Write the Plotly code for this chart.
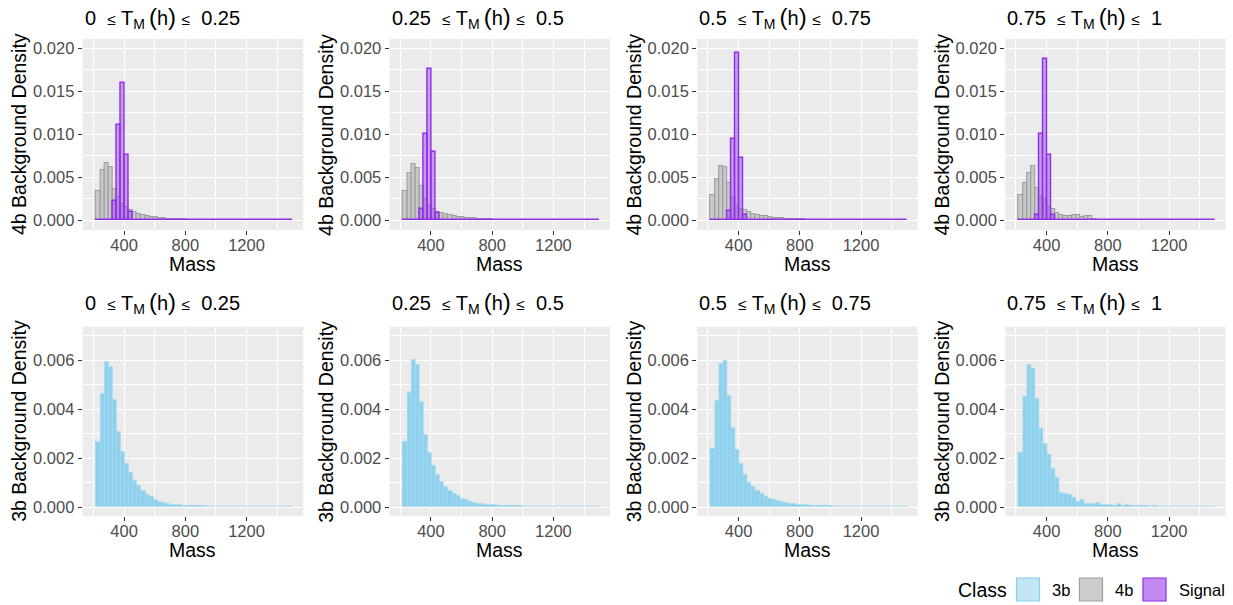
import plotly.graph_objects as go
from plotly.subplots import make_subplots

# histogram bins (mass), shared by every panel
bin_start = 218.0
bin_width = 26.7
n_bins = 48

tm_low = ["0", "0.25", "0.5", "0.75"]
tm_high = ["0.25", "0.5", "0.75", "1"]

# 4b background density, one list per T_M(h) slice
fourb_q1 = [0.00345, 0.0059, 0.00668, 0.0062, 0.0037, 0.0027, 0.0019, 0.0015, 0.0012, 0.00095,
            0.00078, 0.00064, 0.00052, 0.00043, 0.00036, 0.0003, 0.00025, 0.00021, 0.00018, 0.00015,
            0.00013, 0.00011, 0.0001, 0.00009, 0.00008, 0.00007, 0.00006, 0.00005, 0.00005, 0.00004,
            0.00004, 0.00003, 0.00003, 0.00003, 0.00002, 0.00002, 0.00002, 0.00002, 0.00002, 0.00001,
            0.00001, 0.00001, 0.00001, 0.00001, 0.00001, 0.00001, 0.00001, 0.00001]
fourb_q2 = [0.00342, 0.00555, 0.0066, 0.00613, 0.00404, 0.0025, 0.0017, 0.0013, 0.001, 0.0008,
            0.0007, 0.0006, 0.0005, 0.00042, 0.00035, 0.0003, 0.00026, 0.00022, 0.00018, 0.00016,
            0.00014, 0.00012, 0.0001, 0.00009, 0.00008, 0.00007, 0.00006, 0.00005, 0.00005, 0.00004,
            0.00004, 0.00003, 0.00003, 0.00003, 0.00002, 0.00002, 0.00002, 0.00002, 0.00002, 0.00002,
            0.00001, 0.00001, 0.00001, 0.00001, 0.00001, 0.00001, 0.00001, 0.00001]
fourb_q3 = [0.0029, 0.00478, 0.00633, 0.0062, 0.00435, 0.0027, 0.0017, 0.0013, 0.00124, 0.00097,
            0.0007, 0.0006, 0.0005, 0.00045, 0.00038, 0.00032, 0.00028, 0.00024, 0.0002, 0.00017,
            0.00015, 0.00013, 0.00011, 0.0001, 0.00009, 0.00008, 0.00007, 0.00006, 0.00005, 0.00005,
            0.00004, 0.00004, 0.00003, 0.00003, 0.00003, 0.00002, 0.00002, 0.00002, 0.00002, 0.00002,
            0.00001, 0.00001, 0.00001, 0.00001, 0.00001, 0.00001, 0.00001, 0.00001]
fourb_q4 = [0.0029, 0.00434, 0.00547, 0.00632, 0.0038, 0.0027, 0.0025, 0.0015, 0.0013, 0.0009,
            0.0006, 0.0005, 0.0005, 0.0006, 0.0006, 0.0004, 0.0005, 0.0005, 0.0002, 0.0001,
            0.0001, 0.00005, 0.00005, 0.0001, 0.0001, 0.00005, 0.00005, 0.0001, 0.0001, 0.00002,
            0.00005, 0.0001, 0.00002, 0.00002, 0.00002, 0.00002, 0.00002, 0.00002, 0.00002, 0.00002,
            0.00008, 0.00002, 0.00002, 0.00002, 0.00002, 0.00002, 0.00002, 0.00002]

# signal density
signal_q1 = [0.00002, 0.00002, 0.00002, 0.00008, 0.0022, 0.01107, 0.01595, 0.00765, 0.00093, 0.00005,
             0.00002, 0.00002, 0.00002, 0.00002, 0.00002, 0.00002, 0.00002, 0.00002, 0.00002, 0.00002,
             0.00002, 0.00002, 0.00002, 0.00002, 0.00002, 0.00002, 0.00002, 0.00002, 0.00002, 0.00002,
             0.00002, 0.00002, 0.00002, 0.00002, 0.00002, 0.00002, 0.00002, 0.00002, 0.00002, 0.00002,
             0.00002, 0.00002, 0.00002, 0.00002, 0.00002, 0.00002, 0.00002, 0.00002]
signal_q2 = [0.00002, 0.00002, 0.00002, 0.00006, 0.00136, 0.0100, 0.0176, 0.0080, 0.0009, 0.00005,
             0.00002, 0.00002, 0.00002, 0.00002, 0.00002, 0.00002, 0.00002, 0.00002, 0.00002, 0.00002,
             0.00002, 0.00002, 0.00002, 0.00002, 0.00002, 0.00002, 0.00002, 0.00002, 0.00002, 0.00002,
             0.00002, 0.00002, 0.00002, 0.00002, 0.00002, 0.00002, 0.00002, 0.00002, 0.00002, 0.00002,
             0.00002, 0.00002, 0.00002, 0.00002, 0.00002, 0.00002, 0.00002, 0.00002]
signal_q3 = [0.00002, 0.00002, 0.00002, 0.00005, 0.0011, 0.0094, 0.01945, 0.0072, 0.00066, 0.00004,
             0.00002, 0.00002, 0.00002, 0.00002, 0.00002, 0.00002, 0.00002, 0.00002, 0.00002, 0.00002,
             0.00002, 0.00002, 0.00002, 0.00002, 0.00002, 0.00002, 0.00002, 0.00002, 0.00002, 0.00002,
             0.00002, 0.00002, 0.00002, 0.00002, 0.00002, 0.00002, 0.00002, 0.00002, 0.00002, 0.00002,
             0.00002, 0.00002, 0.00002, 0.00002, 0.00002, 0.00002, 0.00002, 0.00002]
signal_q4 = [0.00002, 0.00002, 0.00002, 0.00004, 0.0006, 0.0100, 0.0187, 0.0076, 0.0006, 0.00004,
             0.00002, 0.00002, 0.00002, 0.00002, 0.00002, 0.00002, 0.00002, 0.00002, 0.00002, 0.00002,
             0.00002, 0.00002, 0.00002, 0.00002, 0.00002, 0.00002, 0.00002, 0.00002, 0.00002, 0.00002,
             0.00002, 0.00002, 0.00002, 0.00002, 0.00002, 0.00002, 0.00002, 0.00002, 0.00002, 0.00002,
             0.00002, 0.00002, 0.00002, 0.00002, 0.00002, 0.00002, 0.00002, 0.00002]

# 3b background density
threeb_q1 = [0.00267, 0.00463, 0.00595, 0.00574, 0.00438, 0.00309, 0.00227, 0.00177, 0.00139, 0.0011,
             0.00087, 0.00069, 0.00052, 0.00041, 0.0003, 0.00023, 0.00018, 0.00015, 0.00012, 0.0001,
             0.00009, 0.00008, 0.00007, 0.00006, 0.00006, 0.00005, 0.00005, 0.00004, 0.00004, 0.00004,
             0.00003, 0.00003, 0.00003, 0.00003, 0.00003, 0.00002, 0.00002, 0.00002, 0.00002, 0.00002,
             0.00002, 0.00002, 0.00002, 0.00002, 0.00002, 0.00002, 0.00002, 0.00002]
threeb_q2 = [0.00268, 0.00468, 0.00604, 0.00581, 0.0043, 0.00294, 0.00223, 0.0017, 0.00131, 0.00106,
             0.00084, 0.00068, 0.00056, 0.00045, 0.00035, 0.0003, 0.00024, 0.0002, 0.00016, 0.00014,
             0.00011, 0.0001, 0.00009, 0.00008, 0.00007, 0.00006, 0.00006, 0.00005, 0.00005, 0.00004,
             0.00004, 0.00004, 0.00003, 0.00003, 0.00003, 0.00003, 0.00002, 0.00002, 0.00002, 0.00002,
             0.00002, 0.00002, 0.00002, 0.00002, 0.00002, 0.00002, 0.00002, 0.00002]
threeb_q3 = [0.0024, 0.00433, 0.00584, 0.006, 0.00456, 0.00325, 0.00233, 0.00177, 0.00132, 0.00102,
             0.00083, 0.00067, 0.00057, 0.00042, 0.00035, 0.00029, 0.00027, 0.00022, 0.00019, 0.00016,
             0.00014, 0.00012, 0.0001, 0.00009, 0.00008, 0.00007, 0.00006, 0.00006, 0.00005, 0.00005,
             0.00004, 0.00004, 0.00004, 0.00003, 0.00003, 0.00003, 0.00002, 0.00002, 0.00002, 0.00002,
             0.00002, 0.00002, 0.00002, 0.00002, 0.00002, 0.00002, 0.00002, 0.00002]
threeb_q4 = [0.00222, 0.0045, 0.0058, 0.00565, 0.00445, 0.00322, 0.00261, 0.00214, 0.00156, 0.00121,
             0.00061, 0.00057, 0.0005, 0.0004, 0.00023, 0.0003, 0.00016, 0.00016, 0.00014, 0.00018,
             0.0001, 0.0001, 0.00012, 0.00008, 0.00014, 0.00008, 0.0001, 0.00007, 0.00006, 0.00005,
             0.00006, 0.00005, 0.00004, 0.00005, 0.00004, 0.00004, 0.00003, 0.00004, 0.00003, 0.00003,
             0.00003, 0.00002, 0.00003, 0.00002, 0.00002, 0.00002, 0.00002, 0.00002]

fourb = [fourb_q1, fourb_q2, fourb_q3, fourb_q4]
signal = [signal_q1, signal_q2, signal_q3, signal_q4]
threeb = [threeb_q1, threeb_q2, threeb_q3, threeb_q4]

mass = [bin_start + bin_width * (i + 0.5) for i in range(n_bins)]

W, H = 1233, 605
FONT = "Liberation Sans, Arial, Helvetica, sans-serif"

col3b = "rgba(135,206,235,0.92)"
col3b_line = "rgba(165,218,240,1)"
col4b = "rgba(188,188,188,0.75)"
col4b_line = "rgb(158,158,158)"
colsig = "rgba(155,70,232,0.48)"
colsig_line = "rgb(145,45,232)"

fig = make_subplots(rows=2, cols=4)

for c in range(4):
    fig.add_trace(go.Bar(x=mass, y=fourb[c], width=bin_width, marker_color=col4b,
                         marker_line=dict(color=col4b_line, width=1.1), showlegend=False),
                  row=1, col=c + 1)
    fig.add_trace(go.Bar(x=mass, y=signal[c], width=bin_width, marker_color=colsig,
                         marker_line=dict(color=colsig_line, width=1.4), showlegend=False),
                  row=1, col=c + 1)
    fig.add_trace(go.Bar(x=mass, y=threeb[c], width=bin_width, marker_color=col3b,
                         marker_line=dict(color=col3b_line, width=0.6), showlegend=False),
                  row=2, col=c + 1)

# panel placement (pixels)
col_left = [82.7, 389.6, 697.2, 1005.2]
panel_w = 220.5
rows_px = [(39, 230), (326.7, 516)]
ranges_y = [[-0.00112, 0.02108], [-0.00036, 0.00737]]
ylabels = ["4b Background Density", "3b Background Density"]
title_y = [17, 302]
mass_y = [264, 550]

sm = "<span style='font-size:15.5px'>≤</span>"


def par(s):
    return "<span style='font-size:24px'>" + s + "</span>"


annotations = []
for r in range(2):
    top, bot = rows_px[r]
    for c in range(4):
        x0, x1 = col_left[c], col_left[c] + panel_w
        fig.update_xaxes(domain=[x0 / W, x1 / W], range=[130, 1570],
                         tickvals=[400, 800, 1200], row=r + 1, col=c + 1)
        fig.update_yaxes(domain=[1 - bot / H, 1 - top / H], range=ranges_y[r],
                         row=r + 1, col=c + 1)
        if r == 0:
            fig.update_yaxes(tickvals=[0, 0.005, 0.01, 0.015, 0.02],
                             minor=dict(tick0=0.0025, dtick=0.005, showgrid=True,
                                        gridcolor="white", gridwidth=0.55),
                             row=1, col=c + 1)
        else:
            fig.update_yaxes(tickvals=[0, 0.002, 0.004, 0.006],
                             minor=dict(tick0=0.001, dtick=0.002, showgrid=True,
                                        gridcolor="white", gridwidth=0.55),
                             row=2, col=c + 1)
        annotations.append(dict(
            text=tm_low[c] + "\u00a0\u00a0" + sm + " T<sub>M</sub>\u2009" + par("(") + "h" + par(")") + " " + sm + "\u00a0\u00a0" + tm_high[c],
            x=x0 / W, y=1 - title_y[r] / H, xref="paper", yref="paper",
            xanchor="left", yanchor="middle", showarrow=False,
            font=dict(size=20, color="black", family=FONT)))
        annotations.append(dict(
            text=ylabels[r], textangle=-90,
            x=(19.5 + col_left[c] - col_left[0]) / W, y=1 - (top + bot) / 2 / H,
            xref="paper", yref="paper", xanchor="center", yanchor="middle",
            showarrow=False, font=dict(size=19.5, color="black", family=FONT)))
        annotations.append(dict(
            text="Mass", x=(x0 + x1) / 2 / W, y=1 - mass_y[r] / H,
            xref="paper", yref="paper", xanchor="center", yanchor="middle",
            showarrow=False, font=dict(size=19.5, color="black", family=FONT)))

fig.update_xaxes(showgrid=True, gridcolor="white", gridwidth=1.1, zeroline=False,
                 ticks="outside", ticklen=4, tickwidth=1.1, tickcolor="#333333",
                 ticklabelstandoff=-4,
                 tickfont=dict(size=16.5, color="#4d4d4d", family=FONT),
                 minor=dict(tick0=200, dtick=400, showgrid=True, gridcolor="white", gridwidth=0.55),
                 showline=False, fixedrange=True)
fig.update_yaxes(showgrid=True, gridcolor="white", gridwidth=1.1, zeroline=False,
                 ticks="outside", ticklen=4, tickwidth=1.1, tickcolor="#333333",
                 tickformat=".3f",
                 tickfont=dict(size=16.5, color="#4d4d4d", family=FONT),
                 showline=False, fixedrange=True)

# legend drawn by hand (ggplot-style square keys)
shapes = []
legend_items = [("3b", "rgba(135,206,235,0.5)", "rgb(135,206,235)", 1016.5, 1050),
                ("4b", "rgba(190,190,190,0.78)", "rgb(160,160,160)", 1079.5, 1113),
                ("Signal", "rgba(150,60,230,0.6)", "rgb(145,45,232)", 1143, 1177)]
for name, fill, line, kx, tx in legend_items:
    shapes.append(dict(type="rect", xref="paper", yref="paper",
                       x0=kx / W, x1=(kx + 23) / W, y0=1 - 601 / H, y1=1 - 578 / H,
                       fillcolor=fill, line=dict(color=line, width=1.2)))
    annotations.append(dict(text=name, x=tx / W, y=1 - 590 / H, xref="paper", yref="paper",
                            xanchor="left", yanchor="middle", showarrow=False,
                            font=dict(size=16.5, color="black", family=FONT)))
annotations.append(dict(text="Class", x=956 / W, y=1 - 590 / H, xref="paper", yref="paper",
                        xanchor="left", yanchor="middle", showarrow=False,
                        font=dict(size=19.5, color="black", family=FONT)))

fig.update_layout(width=W, height=H, margin=dict(l=0, r=0, t=0, b=0),
                  paper_bgcolor="white", plot_bgcolor="#ebebeb",
                  barmode="overlay", bargap=0, showlegend=False,
                  annotations=annotations, shapes=shapes,
                  font=dict(family=FONT))

# page body has a default 8px margin; drop it so the figure sits at the window corner
fig.write_html("out.html", config={"displayModeBar": False},
               post_script="document.body.style.margin='0px';")
